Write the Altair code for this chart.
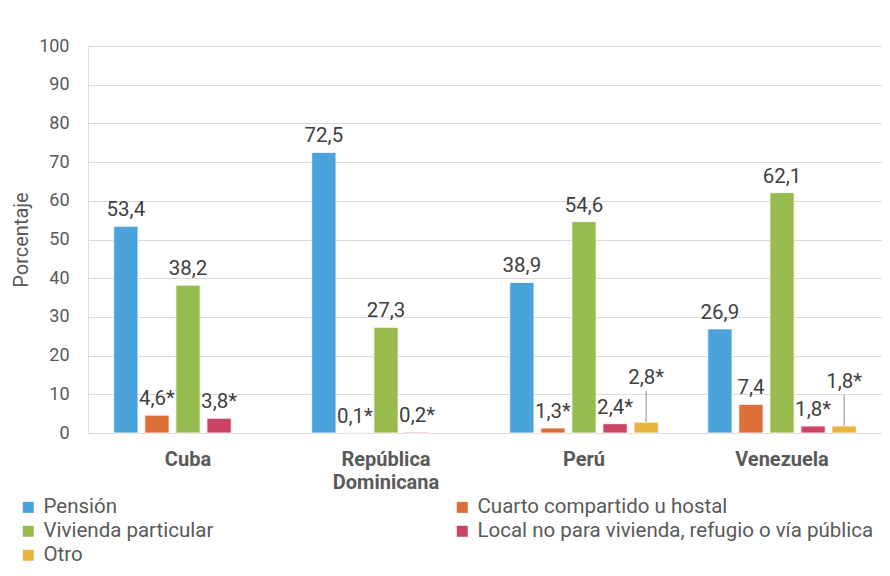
import altair as alt
import pandas as pd

countries = ["Cuba", "República Dominicana", "Perú", "Venezuela"]
categories = [
    "Pensión",
    "Cuarto compartido u hostal",
    "Vivienda particular",
    "Local no para vivienda, refugio o vía pública",
    "Otro",
]
colors = ["#4aa3db", "#da7038", "#97bb4e", "#cb4462", "#e9b43f"]
# legend is filled column by column: left column first
legend_order = [0, 2, 4, 1, 3]

pension = [53.4, 72.5, 38.9, 26.9]
cuarto = [4.6, 0.1, 1.3, 7.4]
vivienda = [38.2, 27.3, 54.6, 62.1]
local = [3.8, 0.2, 2.4, 1.8]
otro = [None, None, 2.8, 1.8]

# asterisk = estimate with low precision
star_pension = [False, False, False, False]
star_cuarto = [True, True, True, False]
star_vivienda = [False, False, False, False]
star_local = [True, True, True, True]
star_otro = [False, False, True, True]

# labels drawn with a leader line (raised above the bar)
raised_otro = [False, False, True, True]

series = [pension, cuarto, vivienda, local, otro]
stars = [star_pension, star_cuarto, star_vivienda, star_local, star_otro]

rows = []
for cat, vals, st in zip(categories, series, stars):
    for i, c in enumerate(countries):
        v = vals[i]
        if v is None:
            continue
        lab = f"{v:.1f}".replace(".", ",") + ("*" if st[i] else "")
        raised = cat == "Otro" and raised_otro[i]
        rows.append({"country": c, "cat": cat, "value": v, "label": lab, "raised": raised})
df = pd.DataFrame(rows)

FONT = "Roboto"
GRAY = "#595959"

x = alt.X(
    "country:N",
    sort=countries,
    title=None,
    scale=alt.Scale(paddingInner=0.25, paddingOuter=0.13),
    axis=alt.Axis(
        labelAngle=0,
        labelFontWeight="bold",
        labelFontSize=20,
        labelColor=GRAY,
        labelFont=FONT,
        labelPadding=16,
        labelLineHeight=23,
        domain=False,
        ticks=False,
        labelExpr="datum.value == 'República Dominicana' ? ['República', 'Dominicana'] : datum.value",
    ),
)
xoff = alt.XOffset("cat:N", sort=categories, scale=alt.Scale(paddingInner=0.22))

yaxis = alt.Axis(
    values=list(range(0, 101, 10)),
    labelFontSize=18,
    labelColor=GRAY,
    labelFont=FONT,
    labelPadding=19,
    ticks=False,
    domain=False,
    gridColor="#d9d9d9",
    gridWidth=1.2,
    titleFont=FONT,
    titleFontSize=20,
    titleFontWeight="normal",
    titleColor=GRAY,
    titlePadding=7,
)
yscale = alt.Scale(domain=[0, 100], nice=False)
y = alt.Y("value:Q", title="Porcentaje", scale=yscale, axis=yaxis)

color = alt.Color(
    "cat:N",
    scale=alt.Scale(
        domain=[categories[i] for i in legend_order],
        range=[colors[i] for i in legend_order],
    ),
    legend=alt.Legend(
        title=None,
        orient="none",
        legendX=-70,
        legendY=451,
        columns=2,
        columnPadding=238,
        rowPadding=3,
        symbolType="square",
        symbolSize=121,
        symbolStrokeWidth=0,
        labelFontSize=20.5,
        labelFont=FONT,
        labelColor=GRAY,
        labelOffset=5,
        labelLimit=500,
    ),
)

base = alt.Chart(df)

bars = base.mark_bar(stroke="white", strokeWidth=0.8).encode(x=x, xOffset=xoff, y=y, color=color)

labels = base.transform_filter("!datum.raised").mark_text(
    baseline="bottom", dy=-6, fontSize=20.5, font=FONT, color="#404040"
).encode(x=x, xOffset=xoff, y=y, text="label:N")

raised = base.transform_filter("datum.raised").transform_calculate(top="datum.value + 8")

leader = raised.mark_rule(color="#8c8c8c", strokeWidth=1).encode(
    x=x, xOffset=xoff, y=y, y2="top:Q"
)
raised_labels = raised.mark_text(
    baseline="bottom", dy=-3, fontSize=20.5, font=FONT, color="#404040"
).encode(
    x=x,
    xOffset=xoff,
    y=alt.Y("top:Q", title="Porcentaje", scale=yscale, axis=yaxis),
    text="label:N",
)

chart = (
    alt.layer(bars, leader, labels, raised_labels)
    .resolve_axis(y="shared")
    .properties(
        width=794,
        height=387,
        autosize=alt.AutoSizeParams(type="none"),
        padding={"left": 80, "top": 38, "right": 0, "bottom": 135},
    )
    .configure_view(stroke=None)
    .configure(background="white")
)

chart.save("out.html", embed_options={"renderer": "svg", "actions": False})
